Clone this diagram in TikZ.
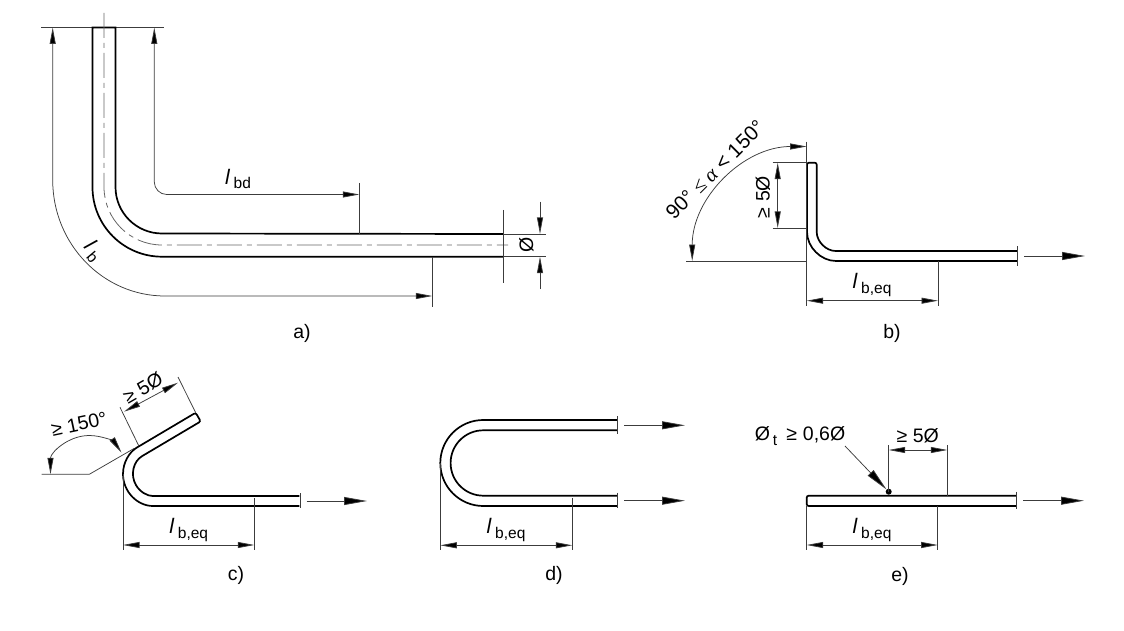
\documentclass[tikz,border=0pt]{standalone}
\usepackage{fontspec}
\setmainfont{Liberation Sans}
\newfontfamily\serifgr{Liberation Serif}
\usetikzlibrary{arrows.meta}
\definecolor{thinc}{HTML}{3C3C3C}
\definecolor{centrec}{HTML}{666666}
\newcommand{\lsub}[1]{\textit{\fontsize{21}{24}\selectfont l}\hspace{3.5pt}\raisebox{-4.5pt}{\fontsize{15.5}{18}\selectfont #1}}
\tikzset{
  x=1pt,y=-1pt,
  bar/.style={draw=black,line width=1.7pt,line join=miter},
  fine/.style={draw=thinc,line width=0.75pt},
  centreline/.style={draw=centrec,line width=0.8pt,dash pattern=on 25pt off 5pt on 5pt off 5pt},
  dimtip/.tip={Triangle[length=16.5pt,width=6pt,fill=black]},
  bigtip/.tip={Triangle[length=23pt,width=8pt,fill=black]},
  dimline/.style={fine,{dimtip}-{dimtip}},
  arr/.style={fine,-{dimtip}},
  force/.style={fine,-{bigtip}},
  txt/.style={font=\fontsize{19.5}{22}\selectfont,inner sep=0pt,text=black},
  figcap/.style={font=\fontsize{19.5}{22}\selectfont,inner sep=0pt,text=black},
}
\begin{document}
\begin{tikzpicture}
\useasboundingbox (0,0) rectangle (1124,631);
% ---------- a
\draw[fine] (41,27.5) -- (164,27.5);
\draw[bar] (503.3,256.7) -- (162,256.7) arc[start angle=90,end angle=180,radius=69.5] -- (92.5,27.5) -- (115.5,27.5) -- (115.5,187) arc[start angle=180,end angle=90,radius=46.5] -- (503.3,234);
\draw[centreline] (104,13) -- (104,187) arc[start angle=180,end angle=90,radius=58] -- (508,245);
\draw[fine,{dimtip}-{dimtip}] (52.7,27.5) -- (52.7,180) arc[start angle=180,end angle=90,x radius=112.3,y radius=116] -- (432.3,296);
\draw[fine,{dimtip}-{dimtip}] (154.3,27.5) -- (154.3,182) arc[start angle=180,end angle=90,radius=12.5] -- (359.3,194.5);
\draw[fine] (359.3,183) -- (359.3,234);
\draw[fine] (432.3,257) -- (432.3,307);
\draw[fine] (503.3,210) -- (503.3,283);
\draw[fine] (503.3,234) -- (545.7,234);
\draw[fine] (503.3,256.7) -- (545.7,256.7);
\draw[arr] (540,201.7) -- (540,234);
\draw[arr] (540,289) -- (540,256.7);
\node[txt,rotate=90] (adia) at (526.5,245) {Ø};
\node[txt,anchor=center] (albd) at (238,179) {\lsub{bd}};
\node[txt,rotate=-50] (alb) at (93,251) {\lsub{b}};
\node[figcap] (capa) at (302,333) {a)};
% ---------- b
\draw[bar,rounded corners=2pt] (1017,261) -- (838,261) arc[start angle=90,end angle=180,radius=31] -- (807,162.7) -- (816.7,162.7) -- (816.7,230) arc[start angle=180,end angle=90,radius=21] -- (1017,251);
\draw[fine] (806.7,141.7) -- (806.7,305.7);
\draw[fine] (686,261) -- (806.7,261);
\draw[fine,{dimtip}-{dimtip}] (692.2,261) arc[start angle=180,end angle=270,radius=114.5];
\draw[fine] (772.7,162.7) -- (806.7,162.7);
\draw[fine] (772.7,228) -- (806.7,228);
\draw[dimline] (777.7,162.7) -- (777.7,228);
\draw[fine] (938,261) -- (938,305.7);
\draw[dimline] (806.7,300.7) -- (938,300.7);
\draw[fine] (1017,246) -- (1017,266);
\draw[force] (1024,256) -- (1085,256);
\node[txt,rotate=90] (bfive) at (763,197) {≥ 5Ø};
\node[txt,rotate=45,font=\fontsize{20.5}{23}\selectfont] (bang) at (715,170) {90° {\serifgr ≤ \textit{α}} < 150°};
\node[txt] (bl) at (872,285) {\lsub{b,eq}};
\node[figcap] (capb) at (892,333) {b)};
% ---------- c
\draw[bar,rounded corners=2pt] (299.3,506) -- (155,506) arc[start angle=90,end angle=240,radius=32] -- (195.7,412.7) -- (200.7,421.4) -- (144,455) arc[start angle=240,end angle=90,radius=22] -- (299.3,496);
\draw[fine] (41.7,474.3) -- (89.3,474.3) -- (134,448.5);
\draw[fine,{dimtip}-{dimtip}] (50.5,474.3) arc[start angle=180,end angle=326,radius=38.8];
\draw[fine] (139,446.3) -- (120,407.3);
\draw[fine] (195.7,412.7) -- (178,377);
\draw[dimline] (124,411.7) -- (178,382.7);
\draw[fine] (123,474) -- (123,550);
\draw[fine] (254.3,498) -- (254.3,550);
\draw[dimline] (123,545) -- (254.3,545);
\draw[fine] (300,493) -- (300,508);
\draw[force] (306.7,501) -- (367,501);
\node[txt,rotate=30] (cfive) at (143,388) {≥ 5Ø};
\node[txt,rotate=12] (cang) at (79,424) {≥ 150°};
\node[txt] (cl) at (188.7,530) {\lsub{b,eq}};
\node[figcap] (capc) at (236,575) {c)};
% ---------- d
\draw[bar] (617.3,420) -- (483.3,420) arc[start angle=270,end angle=90,radius=43] -- (617.3,506);
\draw[bar] (617.3,430.3) -- (483.3,430.3) arc[start angle=270,end angle=90,radius=32.7] -- (617.3,495.7);
\draw[fine] (617.3,416) -- (617.3,434);
\draw[fine] (617.3,492.7) -- (617.3,508);
\draw[force] (624,425.3) -- (685,425.3);
\draw[force] (624,500.7) -- (685,500.7);
\draw[fine] (440.3,463) -- (440.3,550);
\draw[fine] (572.3,498) -- (572.3,550);
\draw[dimline] (440.3,545.3) -- (572.3,545.3);
\node[txt] (dl) at (506,530) {\lsub{b,eq}};
\node[figcap] (capd) at (554,575) {d)};
% ---------- e
\draw[bar,rounded corners=2pt] (1016.7,495.7) -- (806.7,495.7) -- (806.7,506) -- (1016.7,506);
\draw[fine] (1016.7,491.7) -- (1016.7,509);
\draw[force] (1023,500.7) -- (1084,500.7);
\fill[black] (888.7,491.7) circle[radius=3];
\draw[fine] (888.7,445) -- (888.7,491.7);
\draw[fine] (947.3,445) -- (947.3,496);
\draw[dimline] (888.7,450) -- (947.3,450);
\draw[force] (845,446) -- (886.5,489.5);
\draw[fine] (806.7,506) -- (806.7,550);
\draw[fine] (937.7,506) -- (937.7,550);
\draw[dimline] (806.7,545) -- (937.7,545);
\node[txt] (efive) at (917.7,436) {≥ 5Ø};
\node[txt] (ebar) at (800,436) {Ø\hspace{3pt}\raisebox{-4.5pt}{\fontsize{15.5}{18}\selectfont t}\hspace{9pt}≥\hspace{6pt}0,6Ø};
\node[txt] (el) at (872,530) {\lsub{b,eq}};
\node[figcap] (cape) at (900,576) {e)};
\end{tikzpicture}
\end{document}
